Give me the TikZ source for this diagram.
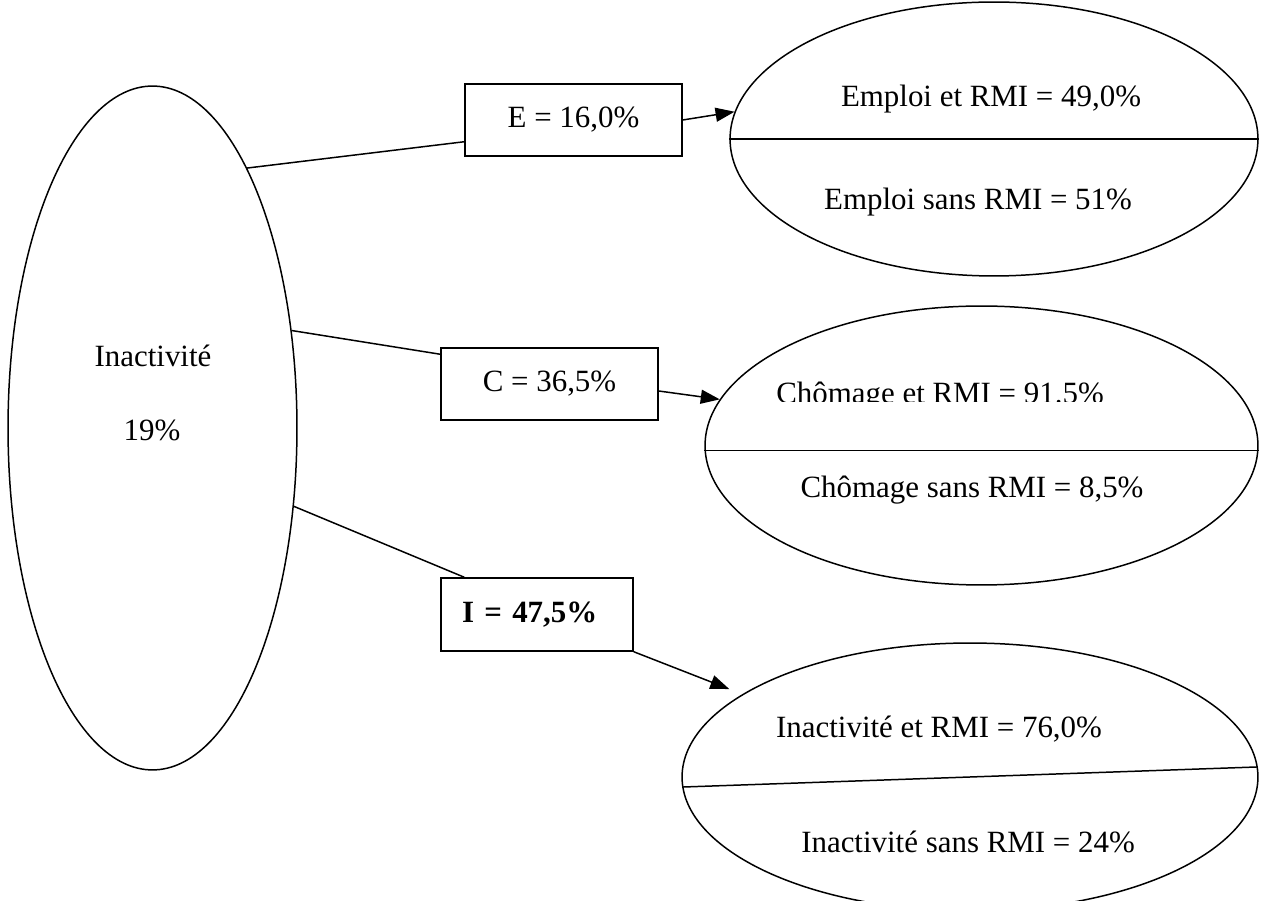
\documentclass[tikz,border=0pt]{standalone}
\usepackage{fontspec}
\setmainfont{Liberation Serif}
\usetikzlibrary{shapes.geometric,arrows.meta,positioning}

\begin{document}
\begin{tikzpicture}[
    x=0.02cm, y=-0.02cm,
    font=\fontsize{17.6pt}{21pt}\selectfont,
    bigEll/.style={
        ellipse, draw=black, line width=0.85pt, inner sep=0pt
    },
    valBox/.style={
        rectangle, draw=black, line width=0.85pt, inner sep=0pt,
        minimum width=4.34cm, minimum height=1.44cm
    },
    lbl/.style={
        anchor=base, inner sep=0pt
    },
    linkLine/.style={
        line width=0.85pt, draw=black
    },
    linkArrow/.style={
        -{Triangle[length=0.38cm, width=0.28cm]}, line width=0.85pt, draw=black
    },
    splitLine/.style={
        line width=0.85pt, draw=black
    }
]

\useasboundingbox (0,0) rectangle (1265,901);

% Left: Inactivité 19%
\node[bigEll, minimum width=5.78cm, minimum height=13.68cm] (inact) at (152.5,428) {};
\node[lbl] (inactName) at (153,367) {Inactivité};
\node[lbl] (inactVal) at (152,441) {19\%};

% Middle column: the three shares
\node[valBox] (boxE) at (573.5,120) {E = 16,0\%};
\node[valBox] (boxC) at (549.5,384) {C = 36,5\%};
\node[valBox, minimum width=3.84cm, minimum height=1.46cm, text width=3.0cm,
      align=left, inner xsep=0.42cm] (boxI) at (537,614.5) {\bfseries I = 47,5\%};

% Right: Emploi
\node[bigEll, minimum width=10.56cm, minimum height=5.48cm] (ellE) at (994,139) {};
\draw[splitLine] (ellE.west) -- (ellE.east);
\node[lbl] (ellEtop) at (991,107) {Emploi et RMI = 49,0\%};
\node[lbl] (ellEbot) at (978,210) {Emploi sans RMI = 51\%};

% Right: Chômage
\node[bigEll, minimum width=11.06cm, minimum height=5.58cm] (ellC) at (981.5,445.5) {};
\draw[splitLine] (ellC.181.1) -- (ellC.-1.1);
\begin{scope}
    \clip (760,350) rectangle (1130,402);
    \node[lbl] (ellCtop) at (940,404) {Chômage et RMI = 91.5\%};
\end{scope}
\node[lbl] (ellCbot) at (972,498) {Chômage sans RMI = 8,5\%};

% Right: Inactivité
\node[bigEll, minimum width=11.52cm, minimum height=5.36cm] (ellI) at (970,777) {};
\draw[splitLine] (ellI.182.2) -- (ellI.2.6);
\node[lbl] (ellItop) at (939,738) {Inactivité et RMI = 76,0\%};
\node[lbl] (ellIbot) at (968,853) {Inactivité sans RMI = 24\%};

% Links
\draw[linkLine] (inact.70) -- ([yshift=0.3cm]boxE.south west);
\draw[linkArrow] (boxE.east) -- (ellE.174);

\draw[linkLine] (inact.35) -- ([yshift=-0.14cm]boxC.north west);
\draw[linkArrow] ([yshift=-0.14cm]boxC.east) -- (ellC.170);

\draw[linkLine] (inact.-29) -- ([xshift=0.48cm]boxI.north west);
\draw[linkArrow, shorten >=0.28cm] (boxI.south east) -- (ellI.160);

\end{tikzpicture}
\end{document}
